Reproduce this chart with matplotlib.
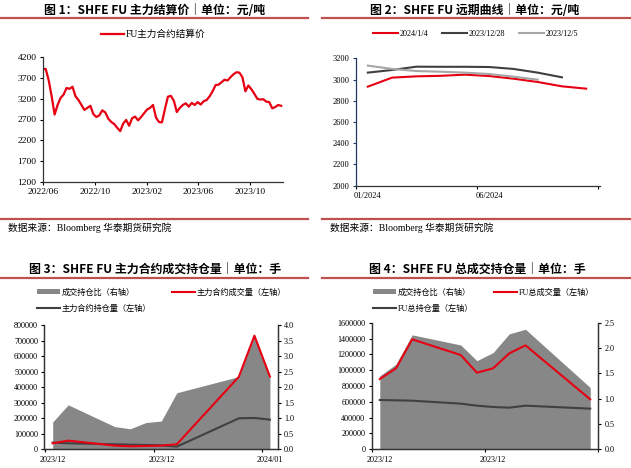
import matplotlib
matplotlib.use('Agg')
import matplotlib.pyplot as plt
import matplotlib.ticker as mticker
import numpy as np
import pandas as pd
from matplotlib.lines import Line2D
from matplotlib.patches import Patch
from matplotlib.transforms import ScaledTranslation

plt.rcParams['font.family'] = ['Liberation Serif', 'Noto Sans CJK SC']
plt.rcParams['axes.unicode_minus'] = False

# ---------------- data ----------------
# Panel 1: FU main contract settlement price (weekly readings)
p1_start = '2022-06-01'
p1_values = [3910, 3920, 3650, 3260, 2820, 3050, 3220, 3300, 3460, 3440,
             3490, 3260, 3170, 3050, 2930, 2980, 3030, 2830, 2760, 2800,
             2920, 2870, 2720, 2640, 2590, 2500, 2420, 2600, 2690, 2550,
             2730, 2770, 2680, 2760, 2850, 2940, 2980, 3050, 2750, 2640,
             2630, 2950, 3250, 3270, 3150, 2880, 2980, 3050, 3090, 3010,
             3100, 3050, 3120, 3060, 3140, 3170, 3260, 3380, 3530, 3540,
             3600, 3660, 3640, 3720, 3790, 3840, 3830, 3720, 3380, 3520,
             3430, 3320, 3200, 3180, 3190, 3130, 3120, 2970, 3000, 3050, 3030]
p1_tick_dates = ['2022-06-01', '2022-10-01', '2023-02-01', '2023-06-01', '2023-10-01']
p1_tick_labels = ['2022/06', '2022/10', '2023/02', '2023/06', '2023/10']
p1_yticks = [1200, 1700, 2200, 2700, 3200, 3700, 4200]

# Panel 2: forward curves
p2_months = ['01/2024', '02/2024', '03/2024', '04/2024', '05/2024',
             '06/2024', '07/2024', '08/2024', '09/2024', '10/2024']
p2_curve_0104 = [2933, 3018, 3030, 3035, 3046, 3033, 3008, 2977, 2936, 2914]
p2_curve_1228 = [3065, 3090, 3121, 3120, 3120, 3118, 3100, 3065, 3021]
p2_curve_1205 = [3131, 3100, 3080, 3074, 3065, 3052, 3027, 2999]
p2_labels = ['2024/1/4', '2023/12/28', '2023/12/5']

# Panel 3: main contract volume / open interest
p3_dates = ['2023-12-21', '2023-12-22', '2023-12-25', '2023-12-26', '2023-12-27',
            '2023-12-28', '2023-12-29', '2024-01-02', '2024-01-03', '2024-01-04']
p3_ratio = [0.88, 1.43, 0.73, 0.66, 0.86, 0.91, 1.82, 2.34, 3.66, 2.36]
p3_volume = [38600, 55800, 23600, 19300, 21400, 23600, 32200, 467600, 731400, 467600]
p3_oi = [42900, 38600, 32200, 30000, 27900, 25700, 17200, 199500, 201600, 190900]
p3_ticks = ['2023-12-20 12:00', '2023-12-27 12:00', '2024-01-03 12:00']
p3_tick_labels = ['2023/12', '2023/12', '2024/01']

# Panel 4: total volume / open interest
p4_dates = ['2023-12-20', '2023-12-21', '2023-12-22', '2023-12-25', '2023-12-26',
            '2023-12-27', '2023-12-28', '2023-12-29', '2024-01-02']
p4_ratio = [1.45, 1.68, 2.26, 2.06, 1.75, 1.91, 2.28, 2.37, 1.22]
p4_volume = [888400, 1023200, 1389500, 1191600, 968400, 1023200, 1212600, 1313700, 631600]
p4_oi = [623200, 619000, 614700, 576800, 551600, 534700, 526300, 551600, 513700]
p4_ticks = ['2023-12-19 12:00', '2023-12-26 12:00', '2024-01-02 12:00']
p4_tick_labels = ['2023/12', '2023/12', '']

RED = '#E60012'
DARK = '#404040'
LIGHT = '#A6A6A6'
AREA = '#878787'
RULE = '#C0504D'
NAVY = '#1F3864'

W, H = 631, 468
fig = plt.figure(figsize=(W / 100, H / 100), dpi=100)


def fx(px):
    return px / W


def fy(py):
    return 1 - py / H


def rect(l, t, r, b):
    return [fx(l), fy(b), fx(r) - fx(l), fy(t) - fy(b)]


def rule(x0, x1, y):
    fig.add_artist(Line2D([fx(x0), fx(x1)], [fy(y), fy(y)], color=RULE, lw=1.6,
                          transform=fig.transFigure))


TITLE_FONT = dict(family=['Noto Sans CJK SC'], fontweight='bold', fontsize=8.6, color='black')
SRC_FONT = dict(family=['Liberation Serif', 'Noto Sans CJK SC'], fontsize=7.0, color='black')

# titles & rules
fig.text(fx(155), fy(10.5), '图 1：SHFE FU 主力结算价｜单位：元/吨', ha='center', va='center', **TITLE_FONT)
fig.text(fx(475), fy(11), '图 2：SHFE FU 远期曲线｜单位：元/吨', ha='center', va='center', **TITLE_FONT)
fig.text(fx(155), fy(270), '图 3：SHFE FU 主力合约成交持仓量｜单位：手', ha='center', va='center', **TITLE_FONT)
fig.text(fx(477), fy(270.5), '图 4：SHFE FU 总成交持仓量｜单位：手', ha='center', va='center', **TITLE_FONT)
rule(0, 308, 17.7)
rule(322, 631, 17.7)
rule(0, 308, 277.8)
rule(322, 631, 278.3)
rule(0, 308, 219.3)
rule(322, 631, 219.3)
fig.text(fx(8), fy(228), '数据来源：Bloomberg 华泰期货研究院', ha='left', va='center', **SRC_FONT)
fig.text(fx(330), fy(228), '数据来源：Bloomberg 华泰期货研究院', ha='left', va='center', **SRC_FONT)


def style_ticks(ax, size):
    ax.tick_params(axis='both', labelsize=size, length=2.5, width=0.8, colors='black', pad=2)


def shift_xlabels(ax, dx_px):
    off = ScaledTranslation(dx_px / 100, 0, fig.dpi_scale_trans)
    for lab in ax.get_xticklabels():
        lab.set_transform(lab.get_transform() + off)


# ---------------- Panel 1 ----------------
ax1 = fig.add_axes(rect(42.7, 57.3, 283.3, 181.7))
p1_dates = pd.date_range(p1_start, periods=len(p1_values), freq='7D')
ax1.plot(p1_dates, p1_values, color=RED, lw=1.6, label='FU主力合约结算价')
ax1.set_ylim(1200, 4200)
ax1.set_yticks(p1_yticks)
ax1.set_xlim(pd.Timestamp(p1_start), pd.Timestamp(p1_start) + pd.Timedelta(days=565))
ax1.set_xticks(pd.to_datetime(p1_tick_dates))
ax1.set_xticklabels(p1_tick_labels)
for s in ['top', 'right']:
    ax1.spines[s].set_visible(False)
for s in ['left', 'bottom']:
    ax1.spines[s].set_color('#333333')
    ax1.spines[s].set_linewidth(0.9)
style_ticks(ax1, 6.8)
fig.legend(handles=[Line2D([], [], color=RED, lw=1.6)], labels=['FU主力合约结算价'],
           loc='center left', bbox_to_anchor=(fx(101), fy(34.5)), frameon=False,
           borderpad=0, borderaxespad=0, handlelength=2.4, handletextpad=0.2,
           prop=dict(family=['Liberation Serif', 'Noto Sans CJK SC'], size=6.9))

# ---------------- Panel 2 ----------------
ax2 = fig.add_axes(rect(355.7, 58.3, 600, 185.7))
idx = np.arange(len(p2_months))
ax2.plot(idx[:len(p2_curve_0104)], p2_curve_0104, color=RED, lw=1.5)
ax2.plot(idx[:len(p2_curve_1228)], p2_curve_1228, color=DARK, lw=1.5)
ax2.plot(idx[:len(p2_curve_1205)], p2_curve_1205, color=LIGHT, lw=1.5)
ax2.set_ylim(2000, 3200)
ax2.set_yticks(np.arange(2000, 3201, 200))
ax2.set_xlim(-0.5, 9.57)
ax2.set_xticks([-0.5, 4.5, 9.5])
ax2.set_xticklabels([p2_months[0], p2_months[5], ''])
for s in ['top', 'right']:
    ax2.spines[s].set_visible(False)
ax2.spines['left'].set_color(NAVY)
ax2.spines['bottom'].set_color('#333333')
ax2.spines['left'].set_linewidth(0.9)
ax2.spines['bottom'].set_linewidth(0.9)
style_ticks(ax2, 6.0)
ax2.tick_params(axis='y', colors=NAVY, labelcolor='black')
shift_xlabels(ax2, 12)
fig.legend(handles=[Line2D([], [], color=c, lw=1.5) for c in (RED, DARK, LIGHT)],
           labels=p2_labels, ncol=3,
           loc='center left', bbox_to_anchor=(fx(373), fy(34)), frameon=False,
           borderpad=0, borderaxespad=0, handlelength=3.0, handletextpad=0.25,
           columnspacing=1.7,
           prop=dict(family=['Liberation Serif', 'Noto Sans CJK SC'], size=5.9))


# ---------------- Panels 3 & 4 ----------------
def vol_panel(box, dates, ratio, vol, oi, ticks, tick_labels, xlim, ymax, ystep,
              rmax, labels, legend_x):
    ax = fig.add_axes(box)
    axr = ax.twinx()
    d = pd.to_datetime(dates)
    axr.fill_between(d, 0, ratio, color=AREA, lw=0)
    ax.plot(d, oi, color=DARK, lw=1.5)
    ax.plot(d, vol, color=RED, lw=1.5)
    ax.set_zorder(axr.get_zorder() + 1)
    ax.patch.set_visible(False)
    ax.set_ylim(0, ymax)
    ax.set_yticks(np.arange(0, ymax + 1, ystep))
    ax.yaxis.set_major_formatter(mticker.FormatStrFormatter('%d'))
    axr.set_ylim(0, rmax)
    axr.set_yticks(np.arange(0, rmax + 0.001, 0.5))
    axr.yaxis.set_major_formatter(mticker.FormatStrFormatter('%.1f'))
    ax.set_xlim(pd.Timestamp(xlim[0]), pd.Timestamp(xlim[1]))
    ax.set_xticks(pd.to_datetime(ticks))
    ax.set_xticklabels(tick_labels)
    for a in (ax, axr):
        a.spines['top'].set_visible(False)
        for s in ['left', 'right', 'bottom']:
            a.spines[s].set_color('#333333')
            a.spines[s].set_linewidth(0.9)
    style_ticks(ax, 5.9)
    style_ticks(axr, 5.9)
    shift_xlabels(ax, 8)
    fig.legend(handles=[Patch(facecolor=AREA, edgecolor='none'),
                        Line2D([], [], color=DARK, lw=1.5),
                        Line2D([], [], color=RED, lw=1.5)],
               labels=[labels[0], labels[2], labels[1]], ncol=2,
               loc='upper left', bbox_to_anchor=(fx(legend_x), fy(288)), frameon=False,
               borderpad=0, borderaxespad=0, handlelength=2.8, handleheight=0.7,
               handletextpad=0.25, columnspacing=2.5, labelspacing=1.0,
               prop=dict(family=['Liberation Serif', 'Noto Sans CJK SC'], size=5.9))
    return ax


vol_panel(rect(44.3, 325, 277.7, 449.3), p3_dates, p3_ratio, p3_volume, p3_oi,
          p3_ticks, p3_tick_labels, ('2023-12-20 11:00', '2024-01-04 12:00'),
          800000, 100000, 4.0,
          ['成交持仓比（右轴）', '主力合约成交量（左轴）', '主力合约持仓量（左轴）'], 37)
vol_panel(rect(371.7, 322.7, 598.3, 449.3), p4_dates, p4_ratio, p4_volume, p4_oi,
          p4_ticks, p4_tick_labels, ('2023-12-19 12:00', '2024-01-02 12:00'),
          1600000, 200000, 2.5,
          ['成交持仓比（右轴）', 'FU总成交量（左轴）', 'FU总持仓量（左轴）'], 373)

fig.savefig('out.png', dpi=100)
